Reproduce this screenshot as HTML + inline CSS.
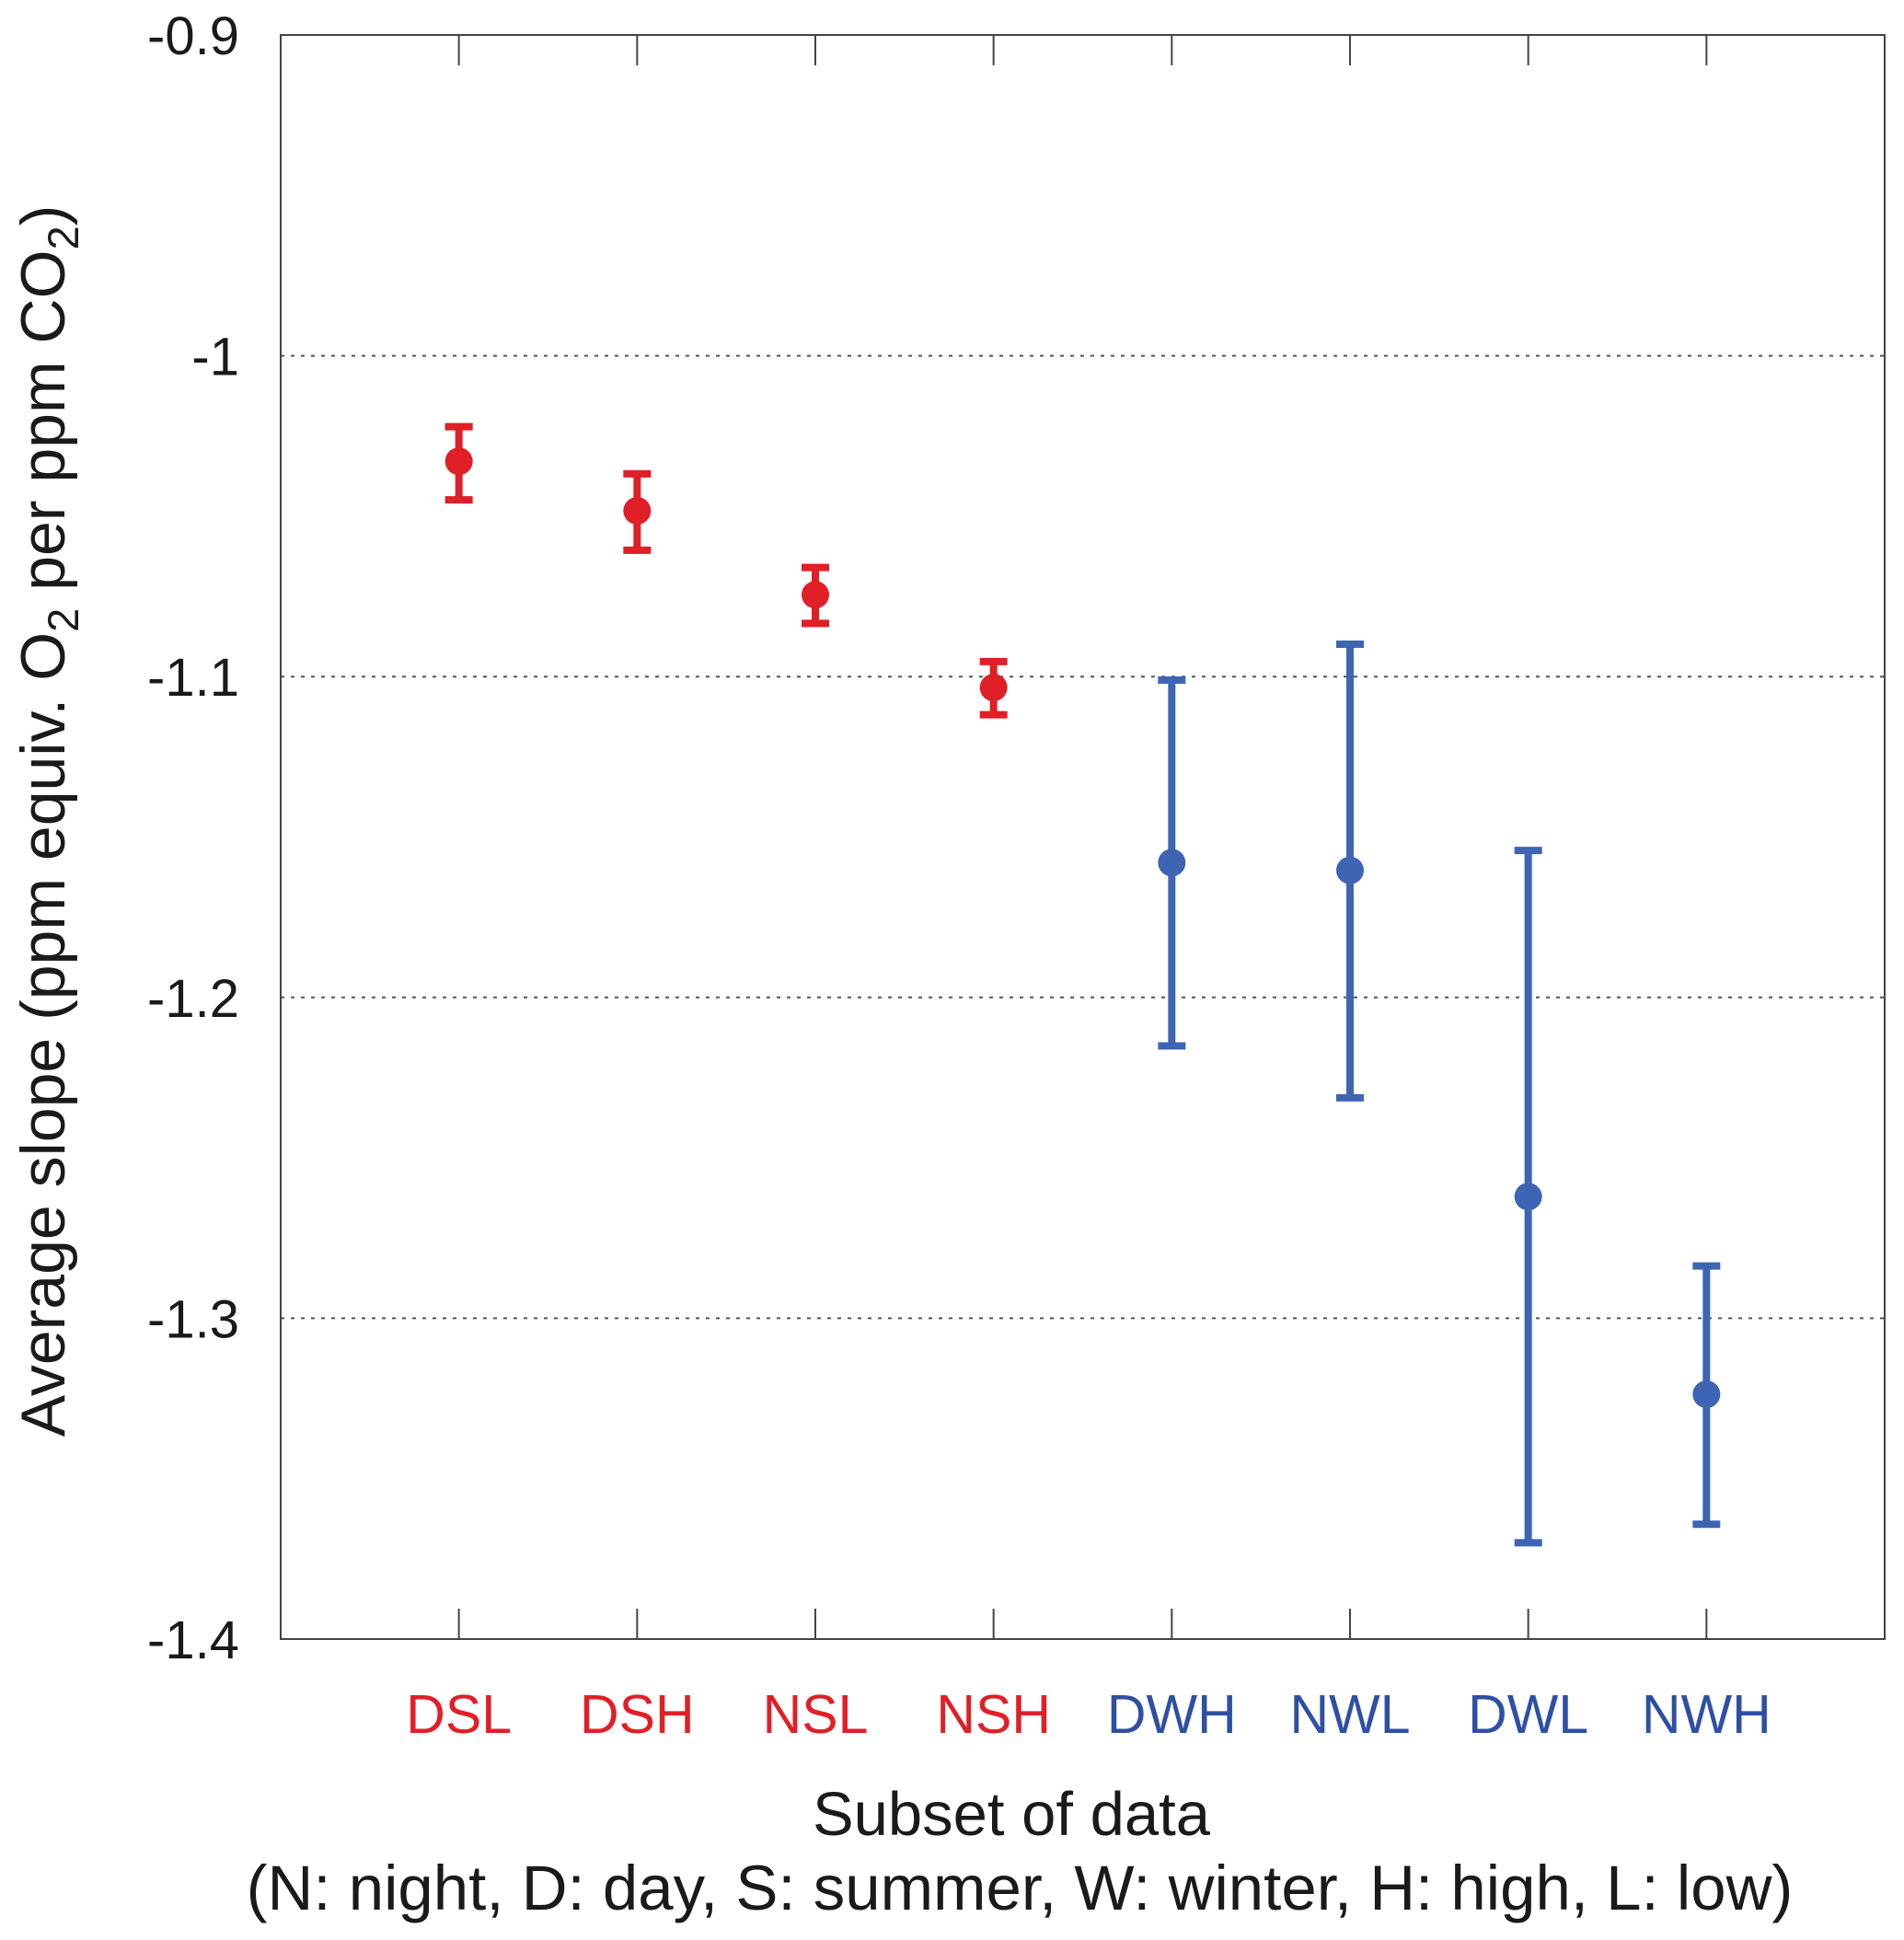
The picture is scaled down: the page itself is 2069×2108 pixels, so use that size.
<!DOCTYPE html>
<html><head><meta charset="utf-8">
<style>
html,body{margin:0;padding:0;background:#fff;}
svg{display:block;font-family:"Liberation Sans",Arial,sans-serif;}
</style></head>
<body>
<svg id="chart" width="2069" height="2108" viewBox="0 0 2069 2108">
<g id="grid"></g>
<rect x="305" y="38" width="1743" height="1743" fill="none" stroke="#444" stroke-width="2"/>
<g id="ticks"></g>
<g id="marks"></g>
<text x="0" y="0" transform="translate(70,892) rotate(-90)" text-anchor="middle" font-size="68" fill="#1a1a1a">Average slope (ppm equiv. O<tspan font-size="47" dy="15">2</tspan><tspan dy="-15"> per ppm CO</tspan><tspan font-size="47" dy="15">2</tspan><tspan dy="-15">)</tspan></text>
<text x="1099" y="1994" text-anchor="middle" font-size="67" fill="#1a1a1a">Subset of data</text>
<text x="1108" y="2075" text-anchor="middle" font-size="69" fill="#1a1a1a">(N: night, D: day, S: summer, W: winter, H: high, L: low)</text>
</svg>
<script>
const categories = ["DSL","DSH","NSL","NSH","DWH","NWL","DWL","NWH"];
const means = [-1.0329,-1.0483,-1.0745,-1.1034,-1.158,-1.1604,-1.2621,-1.3237];
const upper = [-1.0221,-1.0368,-1.066,-1.0953,-1.1011,-1.0899,-1.1542,-1.2837];
const lower = [-1.0449,-1.0606,-1.0834,-1.1119,-1.2151,-1.2313,-1.37,-1.3642];
const groups = ["summer","summer","summer","summer","winter","winter","winter","winter"];
const yTicks = [-0.9,-1,-1.1,-1.2,-1.3,-1.4];
const yTickLabels = ["-0.9","-1","-1.1","-1.2","-1.3","-1.4"];

const NS="http://www.w3.org/2000/svg";
const L=305,R=2048,T=38,B=1781;
const yMin=-1.4,yMax=-0.9;
function yS(v){return T+(yMax-v)/(yMax-yMin)*(B-T);}
function xS(i){return L+(i+1)*(R-L)/(categories.length+1);}
function mk(tag,attrs,parent){const e=document.createElementNS(NS,tag);for(const k in attrs)e.setAttribute(k,attrs[k]);parent.appendChild(e);return e;}
const colors={summer:"#e01f26",winter:"#3e65b4"};
const labelColors={summer:"#e01f26",winter:"#2f4fa6"};
const grid=document.getElementById('grid'),ticks=document.getElementById('ticks'),marks=document.getElementById('marks');

yTicks.forEach((v,i)=>{
  const y=yS(v);
  if(v<yMax&&v>yMin){
    const g=mk('line',{x1:L,x2:R,y1:y,y2:y,stroke:'#555','stroke-width':2,'stroke-dasharray':'4 7'},grid);
    
    
  }
  const t=mk('text',{x:260,y:y+21,'text-anchor':'end','font-size':58,fill:'#1a1a1a'},ticks);
  t.textContent=yTickLabels[i];
  
  
});

categories.forEach((c,i)=>{
  const x=xS(i);
  const t1=mk('line',{x1:x,x2:x,y1:T,y2:T+33,stroke:'#444','stroke-width':2},ticks);
  
  
  const t2=mk('line',{x1:x,x2:x,y1:B-33,y2:B,stroke:'#444','stroke-width':2},ticks);
  
  
  const lab=mk('text',{x:x,y:1883,'text-anchor':'middle','font-size':59,fill:labelColors[groups[i]]},ticks);
  lab.textContent=c;
  
  

  const col=colors[groups[i]];
  const g=mk('g',{},marks);
  
  
  const yu=yS(upper[i]),yl=yS(lower[i]),ym=yS(means[i]);
  mk('line',{x1:x,x2:x,y1:yu,y2:yl,stroke:col,'stroke-width':8},g);
  mk('line',{x1:x-15,x2:x+15,y1:yu,y2:yu,stroke:col,'stroke-width':8},g);
  mk('line',{x1:x-15,x2:x+15,y1:yl,y2:yl,stroke:col,'stroke-width':8},g);
  mk('circle',{cx:x,cy:ym,r:15,fill:col},g);
});
</script>
</body></html>
